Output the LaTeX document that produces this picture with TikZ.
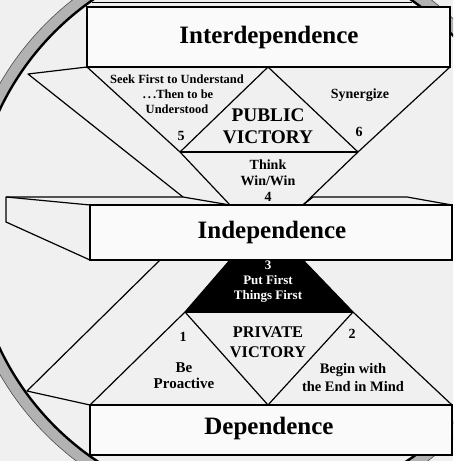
\documentclass[tikz,border=0pt]{standalone}
\usepackage{fontspec}
\setmainfont{Liberation Serif}
\definecolor{bgc}{gray}{0.94}
\definecolor{boxc}{gray}{0.98}
\definecolor{ringc}{gray}{0.70}
\begin{document}
\begin{tikzpicture}[x=1pt,y=-1pt,
  edge/.style={line width=1.2pt, line join=round},
  slab/.style={draw, line width=1.4pt, fill=boxc},
  big/.style={inner sep=0pt, font=\fontsize{25}{25}\selectfont\bfseries},
  txt/.style={inner sep=0pt, align=center, font=\fontsize{14}{16}\selectfont\bfseries}]
\useasboundingbox (0,0) rectangle (453,461);
\fill[bgc] (0,0) rectangle (453,461);
% ring
\begin{scope}
\clip (0,0) rectangle (453,461);
\draw[ringc, line width=12pt] (252,229) circle[radius=285pt];
\draw[line width=0.6pt, black!70] (252,229) circle[radius=291pt];
\draw[line width=2.4pt] (252,229) circle[radius=279pt];
\end{scope}
% coordinates
\coordinate (iBL) at (87,67);
\coordinate (iBR) at (450,67);
\coordinate (apex) at (268,67);
\coordinate (l5) at (180,152);
\coordinate (r6) at (358,152);
\coordinate (twl) at (230,205);
\coordinate (twr) at (303,205);
\coordinate (ol1) at (28,74);
\coordinate (ol2) at (183,197);
\coordinate (pl) at (230,260);
\coordinate (pr) at (303,260);
\coordinate (bl) at (185,312);
\coordinate (br) at (353,312);
\coordinate (vb) at (268,405);
\coordinate (dTL) at (90,405);
\coordinate (dTR) at (452,405);
\coordinate (lo1) at (160,260);
\coordinate (lo2) at (27,391);
% upper structure
\draw[edge] (iBL) -- (l5) -- (twl);
\draw[edge] (iBR) -- (r6) -- (twr);
\draw[edge] (l5) -- (apex) -- (r6);
\draw[edge] (l5) -- (r6);
\draw[edge] (iBL) -- (ol1) -- (ol2);
% lower structure
\fill[black] (pl) -- (pr) -- (br) -- (bl) -- cycle;
\draw[edge] (lo1) -- (lo2) -- (dTL);
\draw[edge] (pl) -- (bl) -- (dTL);
\draw[edge] (pr) -- (br) -- (dTR);
\draw[edge] (bl) -- (vb) -- (br);
\draw[edge] (bl) -- (br);
% Interdependence slab
\draw[line width=0.8pt] (92,2) -- (412,2);
\draw[slab] (87,7) rectangle (450,67);
% Independence slab
\filldraw[edge, fill=bgc] (90,205) -- (6,197) -- (6,222) -- (90,260);
\draw[edge] (6,197) -- (183,197) -- (twl);
\draw[edge] (twr) -- (313,197) -- (407,197) -- (452,205);
\draw[slab] (90,205) rectangle (452,260);
% Dependence slab
\draw[slab] (dTL) rectangle (452,455);
% texts
\node[big] (inter) at (269,37) {Interdependence};
\node[big] (indep) at (272,232) {Independence};
\node[big] (dep) at (269,428) {Dependence};
\node[txt, font=\fontsize{12.5}{15}\selectfont\bfseries] (seek) at (177,94) {Seek First to Understand\\\,.\,.\,.Then to be\\Understood};
\node[txt] (n5) at (181,136) {5};
\node[txt, font=\fontsize{19.3}{22}\selectfont\bfseries] (pub) at (268,126) {PUBLIC\\VICTORY};
\node[txt] (syn) at (360,95) {Synergize};
\node[txt] (n6) at (359,132) {6};
\node[txt] (think) at (268,181) {Think\\Win/Win\\4};
\node[txt, text=white, font=\fontsize{13}{15}\selectfont\bfseries] (put) at (268,282) {3\\Put First\\Things First};
\node[txt] (n1) at (183,337) {1};
\node[txt, font=\fontsize{15}{16}\selectfont\bfseries] (be) at (184,376) {Be\\Proactive};
\node[txt, font=\fontsize{16.3}{20}\selectfont\bfseries] (priv) at (268,342) {PRIVATE\\VICTORY};
\node[txt] (n2) at (352,334) {2};
\node[txt, font=\fontsize{14.5}{18}\selectfont\bfseries] (begin) at (353,378) {Begin with\\the End in Mind};
\end{tikzpicture}
\end{document}
